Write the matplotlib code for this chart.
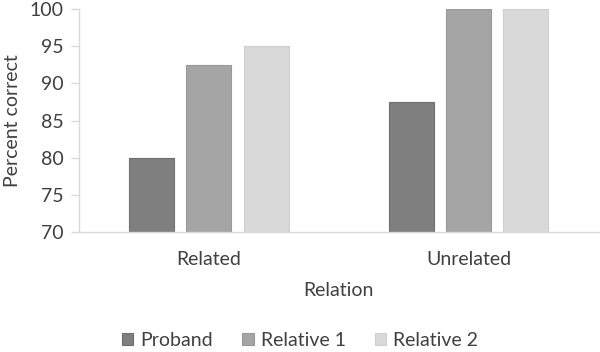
import matplotlib.pyplot as plt
import numpy as np

categories = ["Related", "Unrelated"]
series_names = ["Proband", "Relative 1", "Relative 2"]
proband = [80, 87.5]
relative_1 = [92.5, 100]
relative_2 = [95, 100]
y_ticks = [70, 75, 80, 85, 90, 95, 100]

colors = ["#7f7f7f", "#a5a5a5", "#d9d9d9"]
edges = ["#6e6e6e", "#999999", "#cfcfcf"]
text_color = "#404040"

plt.rcParams['font.family'] = ['Lato', 'DejaVu Sans']

fig = plt.figure(figsize=(6, 3.52), dpi=100)
ax = fig.add_axes([0.1317, 0.341, 0.866, 0.633])

x = np.arange(len(categories))
width = 0.173
step = 0.22
for i, (name, vals) in enumerate(zip(series_names, [proband, relative_1, relative_2])):
    ax.bar(x + (i - 1) * step, np.array(vals) - 70, bottom=70, width=width,
           color=colors[i], edgecolor=edges[i], linewidth=0.8, label=name)

ax.set_xlim(-0.5, 1.5)
ax.set_ylim(70, 100)
ax.set_yticks(y_ticks)
ax.set_xticks(x)
ax.set_xticklabels(categories)

for s in ["top", "right"]:
    ax.spines[s].set_visible(False)
ax.spines["left"].set_color("#d9d9d9")
ax.spines["bottom"].set_color("#d9d9d9")
ax.spines["left"].set_linewidth(1)
ax.spines["bottom"].set_linewidth(1)

ax.tick_params(axis="y", colors="#d9d9d9", labelcolor=text_color, labelsize=14,
               length=6, width=1, pad=5)
ax.tick_params(axis="x", length=0, labelcolor=text_color, labelsize=14, pad=14)

ax.set_ylabel("Percent correct", color=text_color, fontsize=14, labelpad=6)
ax.set_xlabel("Relation", color=text_color, fontsize=14, labelpad=10)

leg = fig.legend(loc="lower center", ncol=3, frameon=False, fontsize=14,
                 bbox_to_anchor=(0.5, -0.04), handlelength=0.6, handleheight=0.6,
                 handletextpad=0.35, columnspacing=1.5)
for t in leg.get_texts():
    t.set_color(text_color)

fig.savefig("out.png", dpi=100)
